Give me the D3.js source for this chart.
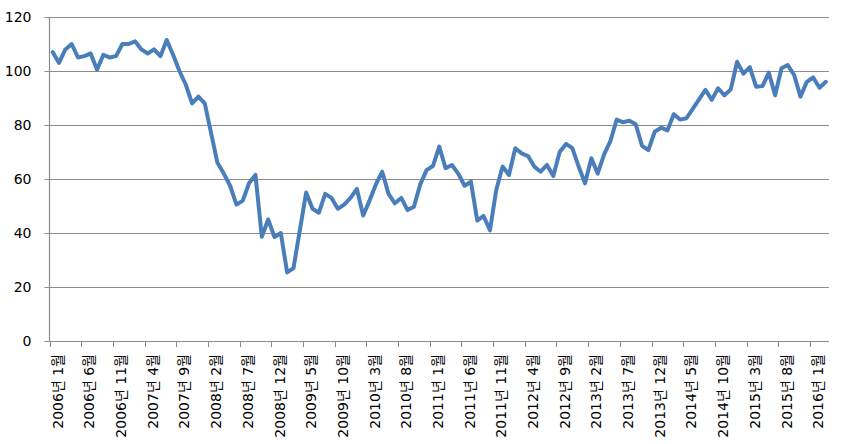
<!DOCTYPE html>
<html>
<head>
<meta charset="utf-8">
<script src="https://cdn.jsdelivr.net/npm/d3@7"></script>
<style>
  html, body { margin: 0; padding: 0; background: #ffffff; }
  svg { display: block; }
  text { font-family: "DejaVu Sans", "Noto Sans CJK KR", sans-serif; fill: #000; }
</style>
</head>
<body>
<svg id="chart" width="844" height="444"></svg>
<script>
// ---- data ----
const startYear = 2006;
const monthCount = 123; // 2006-01 .. 2016-03
const categories = [];
for (let i = 0; i < monthCount; i++) {
  const yr = startYear + Math.floor(i / 12);
  const m = (i % 12) + 1;
  categories.push(yr + "년 " + m + "월");
}
const values = [
  107, 103, 108, 110, 105, 105.5, 106.5, 100.5, 106, 105, 105.5, 110,
  110, 111, 108, 106.5, 108, 105.5, 111.5, 106, 100, 95, 88, 90.5,
  88, 77, 66, 62, 57.5, 50.5, 52, 58.5, 61.5, 38.6, 45, 38.5,
  40, 25.4, 27, 41, 55, 49, 47.5, 54.5, 53, 49, 50.5, 53,
  56.3, 46.5, 52, 58, 62.7, 54.5, 51, 53, 48.5, 49.7, 58, 63.3,
  64.8, 72, 64, 65.2, 62, 57.5, 59, 44.6, 46.3, 41, 56, 64.6,
  61.5, 71.4, 69.5, 68.5, 64.6, 62.7, 65.2, 61.1, 70, 73, 71.4, 64.6,
  58.4, 67.7, 62, 69, 74, 82, 81, 81.6, 80.3, 72.3, 70.7, 77.5,
  79, 78, 84, 82, 82.5, 86, 89.5, 93, 89.3, 93.6, 91, 93.2,
  103.4, 99, 101.4, 94.2, 94.4, 99.4, 91, 101, 102.2, 98.5, 90.5, 96,
  97.6, 93.8, 96
];
const tickLabels = [
  "2006년 1월", "2006년 6월", "2006년 11월", "2007년 4월", "2007년 9월",
  "2008년 2월", "2008년 7월", "2008년 12월", "2009년 5월", "2009년 10월",
  "2010년 3월", "2010년 8월", "2011년 1월", "2011년 6월", "2011년 11월",
  "2012년 4월", "2012년 9월", "2013년 2월", "2013년 7월", "2013년 12월",
  "2014년 5월", "2014년 10월", "2015년 3월", "2015년 8월", "2016년 1월"
];
const yTicks = [0, 20, 40, 60, 80, 100, 120];

// ---- layout ----
const pL = 49.5, pR = 829, pT = 17, pB = 341;
const svg = d3.select("#chart");
const x = d3.scaleBand().domain(categories).range([pL, pR]).padding(0);
const y = d3.scaleLinear().domain([0, 120]).range([pB, pT]);
const bw = x.bandwidth();
const cx = c => x(c) + bw / 2;

// gridlines
svg.append("g").selectAll("line").data(yTicks.filter(t => t > 0)).join("line")
  .attr("x1", pL).attr("x2", pR)
  .attr("y1", d => Math.round(y(d)) + 0.5).attr("y2", d => Math.round(y(d)) + 0.5)
  .attr("stroke", "#8c8c8c").attr("stroke-width", 1);

// y axis
svg.append("line").attr("x1", pL).attr("x2", pL).attr("y1", pT).attr("y2", pB + 0.5)
  .attr("stroke", "#8c8c8c").attr("stroke-width", 1.2);
svg.append("g").selectAll("line").data(yTicks).join("line")
  .attr("x1", pL - 5).attr("x2", pL)
  .attr("y1", d => Math.round(y(d)) + 0.5).attr("y2", d => Math.round(y(d)) + 0.5)
  .attr("stroke", "#8c8c8c");
svg.append("g").selectAll("text").data(yTicks).join("text")
  .attr("x", 31.5).attr("y", d => y(d)).attr("dy", "0.36em")
  .attr("text-anchor", "end").style("font-size", "14px")
  .text(d => d);

// x axis
svg.append("line").attr("x1", pL).attr("x2", pR).attr("y1", pB + 0.5).attr("y2", pB + 0.5)
  .attr("stroke", "#8c8c8c").attr("stroke-width", 1.2);
const tickIdx = categories.map((c, i) => i).filter(i => i % 5 === 0);
svg.append("g").selectAll("line").data(tickIdx).join("line")
  .attr("x1", i => Math.round(x(categories[i])) + 0.5).attr("x2", i => Math.round(x(categories[i])) + 0.5)
  .attr("y1", pB).attr("y2", pB + 6)
  .attr("stroke", "#8c8c8c");
svg.append("g").selectAll("text").data(tickIdx).join("text")
  .attr("transform", i => `translate(${cx(categories[i]) + 5},${354}) rotate(-90)`)
  .attr("dy", "0.36em")
  .attr("text-anchor", "end").style("font-size", "14px")
  .text((i, k) => tickLabels[k]);

// line
const line = d3.line().x((d, i) => cx(categories[i])).y(d => y(d));
svg.append("path").datum(values)
  .attr("d", line).attr("fill", "none")
  .attr("stroke", "#4a7ebb").attr("stroke-width", 4)
  .attr("stroke-linejoin", "round").attr("stroke-linecap", "round");
</script>
</body>
</html>
